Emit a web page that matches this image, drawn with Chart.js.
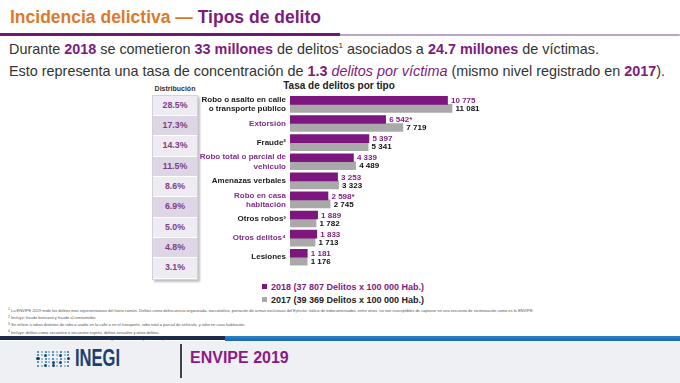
<!DOCTYPE html>
<html><head><meta charset="utf-8">
<script src="https://cdn.jsdelivr.net/npm/chart.js@4.4.1/dist/chart.umd.min.js"></script>
<style>
html,body{margin:0;padding:0;width:680px;height:383px;overflow:hidden;background:#fff;font-family:"Liberation Sans",Arial,sans-serif;}
.abs{position:absolute;}
#title{left:10px;top:5px;font-family:"Liberation Sans",Arial,sans-serif;font-weight:700;font-size:17.5px;line-height:24px;white-space:nowrap;}
.or{color:#DD7A2A;} .pu{color:#7E1B7E;}
#barDark{left:0;top:33px;width:340px;height:3px;background:#6E1A72;}
#barLight{left:340px;top:33.5px;width:340px;height:2.5px;background:#B8A4CB;border-radius:0 2px 2px 0;}
.sub{left:9px;font-size:14.4px;color:#333;white-space:nowrap;line-height:18px;}
.sub b{color:#7E1B7E;}
.sub i{color:#7E1B7E;}
.sub sup{font-size:8px;line-height:0;}
#distHead{left:152px;top:85px;width:46px;text-align:center;font-size:7px;font-weight:bold;color:#333;}
#dist{left:152px;top:94.85px;width:44px;box-shadow:2px 2px 2px rgba(0,0,0,0.25);border:1px solid #d4d0dc;}
.drow{height:19.3px;line-height:19.3px;text-align:center;font-size:8.8px;font-weight:bold;color:#7d3f86;border-bottom:1px solid #fff;}
#chartTitle{left:239px;top:80px;width:200px;text-align:center;font-size:10px;font-weight:bold;color:#222;}
#chartBox{left:180px;top:80px;width:330px;height:200px;}
.leg{left:262px;font-size:9px;font-weight:bold;white-space:nowrap;line-height:12px;}
.leg span.m{display:inline-block;width:5px;height:5px;margin-right:4px;vertical-align:1px;}
#notes{left:8px;top:306px;transform:scale(0.5);transform-origin:0 0;font-size:8px;line-height:11px;color:#555;white-space:nowrap;}
#fDark{left:0;top:336px;width:225px;height:4px;background:#1C2B49;}
#fBlue{left:225px;top:336px;width:455px;height:5px;background:linear-gradient(#2b84c8,#1b66aa);}
#fBg{left:0;top:341px;width:680px;height:42px;background:#EEF0F3;}
#sep{left:180px;top:344px;width:1.5px;height:34px;background:#444;}
#envipe{left:190px;top:349px;font-size:16px;font-weight:bold;color:#8B1A89;line-height:18px;}
#inegi{left:75px;top:345px;font-size:23px;font-weight:bold;color:#1D3F70;line-height:26px;transform:scaleX(0.72);transform-origin:0 0;}
.dot{position:absolute;border-radius:50%;}
</style></head>
<body>
<div id="title" class="abs"><span class="or">Incidencia delictiva —</span> <span class="pu">Tipos de delito</span></div>
<div id="barDark" class="abs"></div><div id="barLight" class="abs"></div>
<div class="abs sub" style="top:40px">Durante <b>2018</b> se cometieron <b>33 millones</b> de delitos<sup>1</sup> asociados a <b>24.7 millones</b> de víctimas.</div>
<div class="abs sub" style="top:62px">Esto representa una tasa de concentración de <b>1.3</b> <i>delitos por víctima</i> (mismo nivel registrado en <b>2017</b>).</div>
<div id="distHead" class="abs">Distribución</div>
<div id="dist" class="abs"></div>
<div id="chartTitle" class="abs">Tasa de delitos por tipo</div>
<div id="chartBox" class="abs"><canvas id="c" width="330" height="200"></canvas></div>
<div id="leg1" class="abs leg" style="top:281px;color:#7E1B7E"><span class="m" style="background:#7E1680"></span><span id="l1"></span></div>
<div id="leg2" class="abs leg" style="top:294px;color:#222"><span class="m" style="background:#A9A9A9"></span><span id="l2"></span></div>
<div id="notes" class="abs"></div>
<div id="fDark" class="abs"></div><div id="fBlue" class="abs"></div>
<div id="fBg" class="abs"></div>
<div id="logoDots" class="abs" style="left:0;top:0"></div>
<div id="inegi" class="abs">INEGI</div>
<div id="sep" class="abs"></div>
<div id="envipe" class="abs">ENVIPE 2019</div>
<script>
const categories = [["Robo o asalto en calle","o transporte público"],"Extorsión","Fraude²",["Robo total o parcial de","vehiculo"],"Amenazas verbales",["Robo en casa","habitación"],"Otros robos³","Otros delitos⁴","Lesiones"];
const rate2018 = [10775,6542,5397,4339,3253,2598,1889,1833,1181];
const rate2017 = [11081,7719,5341,4489,3323,2745,1782,1713,1176];
const significant2018 = ["","*","","","","*","","",""];
const significant2017 = ["","","","","","","","",""];
const distribution = ["28.5%","17.3%","14.3%","11.5%","8.6%","6.9%","5.0%","4.8%","3.1%"];
const legendLabels = ["2018 (37 807 Delitos x 100 000 Hab.)","2017 (39 369 Delitos x 100 000 Hab.)"];
const footnotes = [
 "<sup>1</sup> La ENVIPE 2019 mide los delitos más representativos del fuero común. Delitos como delincuencia organizada, narcotráfico, portación de armas exclusivas del Ejército, tráfico de indocumentados, entre otros, no son susceptibles de captarse en una encuesta de victimización como es la ENVIPE.",
 "<sup>2</sup> Incluye: fraude bancario y fraude al consumidor.",
 "<sup>3</sup> Se refiere a robos distintos de robo o asalto en la calle o en el transporte, robo total o parcial de vehículo, y robo en casa habitación.",
 "<sup>4</sup> Incluye: delitos como secuestro o secuestro exprés, delitos sexuales y otros delitos.",
 "* En estos casos <b>sí existió</b> un cambio estadísticamente significativo con respecto del ejercicio anterior."
];

const dist = document.getElementById('dist');
distribution.forEach((d,i)=>{
  const r=document.createElement('div'); r.className='drow';
  r.style.background = i%2 ? '#DCD6E5' : '#EFEBF3';
  r.textContent=d; dist.appendChild(r);
});
document.getElementById('l1').textContent=legendLabels[0];
document.getElementById('l2').textContent=legendLabels[1];
document.getElementById('notes').innerHTML=footnotes.join('<br>');

const ld=document.getElementById('logoDots');
const pat=["1.1.1.1.1","1.2.1.2.1","2.1.1.1.2","1.1.2.2.1","1.2.2.1.1"];
for(let r=0;r<5;r++){for(let c=0;c<9;c++){const ch=pat[r][c]; const d=document.createElement('div'); d.className='dot';
 const big=ch==='2'; const s=big?3.4:2; d.style.width=s+'px'; d.style.height=s+'px';
 d.style.left=(38+c*3.8-s/2)+'px'; d.style.top=(352+r*3.4-s/2)+'px';
 d.style.background= big ? '#1D3F70' : (ch==='.'?'#7fb0d8':'#2f6fae'); ld.appendChild(d);}}

const fmt = v => String(v).replace(/\B(?=(\d{3})+(?!\d))/g,' ');
const valueLabels = {
  id:'valueLabels',
  afterDatasetsDraw(chart){
    const ctx=chart.ctx; ctx.save();
    ctx.font='bold 8px "Liberation Sans", Arial, sans-serif';
    ctx.textBaseline='middle'; ctx.textAlign='left';
    const marks=[significant2018,significant2017];
    const cols=['#7E1B7E','#111111'];
    chart.data.datasets.forEach((ds,di)=>{
      chart.getDatasetMeta(di).data.forEach((bar,i)=>{
        ctx.fillStyle=cols[di];
        ctx.fillText(fmt(ds.data[i])+marks[di][i], bar.x+3.5, bar.y+0.5);
      });
    });
    ctx.restore();
  }
};

new Chart(document.getElementById('c'),{
  type:'bar',
  data:{labels:categories,datasets:[
    {label:legendLabels[0],data:rate2018,backgroundColor:'#7E1680',barThickness:8},
    {label:legendLabels[1],data:rate2017,backgroundColor:'#A9A9A9',barThickness:8}
  ]},
  options:{
    indexAxis:'y',responsive:false,animation:false,devicePixelRatio:1,
    layout:{padding:{top:14.85,bottom:2.3,right:15.3,left:0}},
    plugins:{legend:{display:false},tooltip:{enabled:false},title:{display:false}},
    scales:{
      x:{display:false,min:0,max:14000},
      y:{grid:{display:false,drawTicks:false},border:{display:false},
         ticks:{padding:4,autoSkip:false,color:c=>c.index%2?'#82308A':'#1a1a1a',
           font:{family:'"Liberation Sans", Arial, sans-serif',size:8,weight:'bold',lineHeight:1.15}},
         afterFit:s=>{s.width=110;}}
    }
  },
  plugins:[valueLabels]
});
</script>
</body></html>
